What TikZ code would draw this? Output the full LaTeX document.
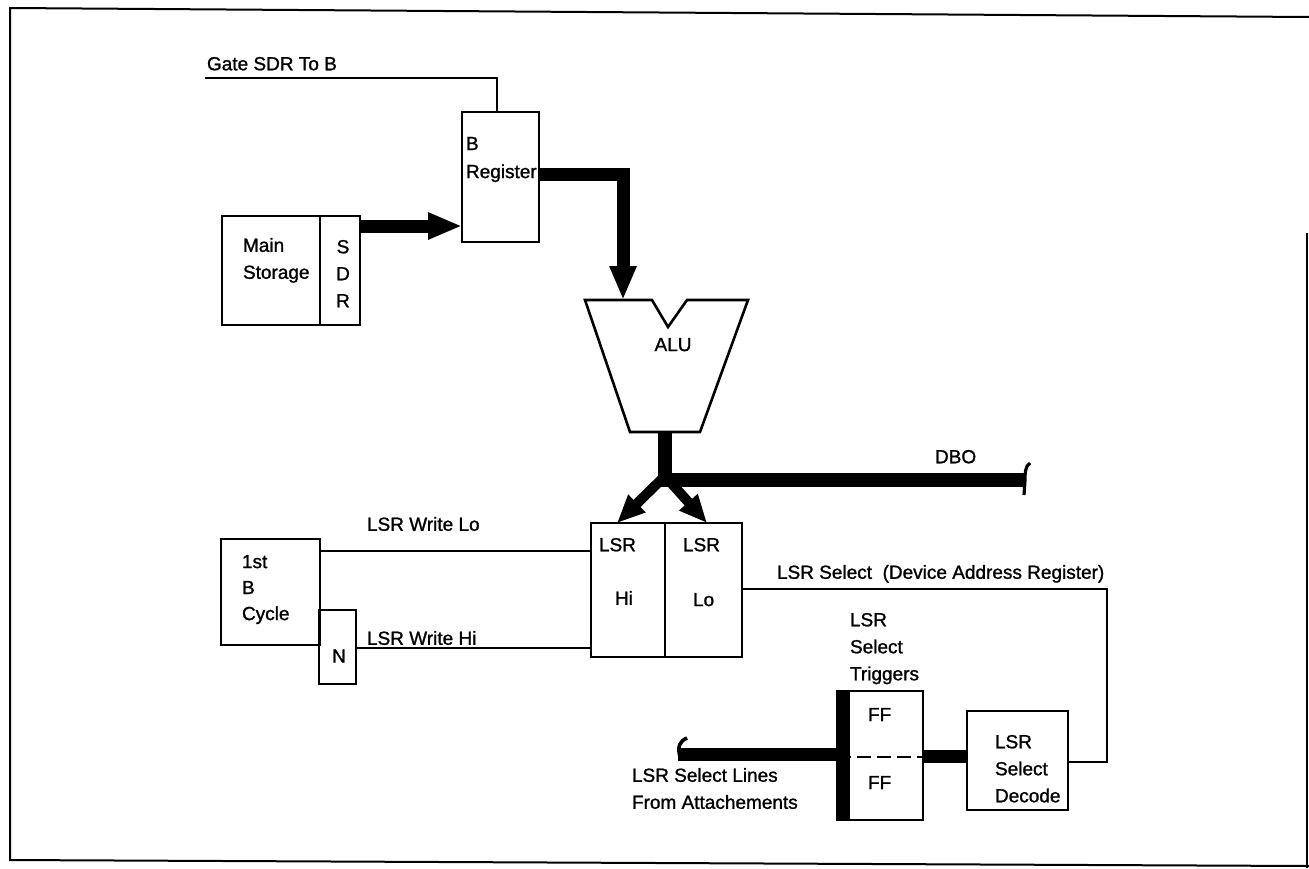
\documentclass[tikz,border=0pt]{standalone}
\usepackage{fontspec}
\setmainfont{Liberation Sans}[BoldFont={Liberation Sans},BoldFeatures={FakeBold=1.2}]
\usetikzlibrary{arrows.meta,fit}
\begin{document}
\begin{tikzpicture}[x=0.5pt,y=-0.5pt,
  wire/.style={line width=1.1pt},
  box/.style={draw,line width=1.3pt,inner sep=0pt,outer sep=0pt},
  lbl/.style={inner sep=0pt,outer sep=0pt,anchor=north west,align=left,font=\fontsize{9.5}{13.5}\selectfont\bfseries},
  bus/.style={line width=6.5pt},
  bigtip/.style={-{Triangle[length=17pt,width=12.5pt]}},
  smalltip/.style={-{Triangle[length=14pt,width=11.5pt]}},
]
\useasboundingbox (0,0) rectangle (1309,868);
% frame
\draw[line width=1pt] (1309,17) -- (10,8) -- (10,860) -- (1309,866);
\draw[line width=1pt] (1307,233) -- (1307,868);

% boxes
\node[box,fit={(462,112)(539,242)}] (breg) {};
\node[box,fit={(222,216)(320,325)}] (ms) {};
\node[box,fit={(320,216)(360,325)}] (sdr) {};
\node[box,fit={(221,539)(320,645)}] (cyc) {};
\node[box,fit={(319,610)(356,684)}] (nbox) {};
\node[box,fit={(591,523)(665,657)}] (hi) {};
\node[box,fit={(665,523)(742,657)}] (lo) {};
\node[box,fit={(837,691)(923,820)}] (ff) {};
\node[box,fit={(967,711)(1068,810)}] (dec) {};

% ALU
\draw[line width=1.3pt,line join=miter] (585,300) -- (652,300) -- (668,327) -- (687,300) -- (748,300) -- (700,432) -- (630,432) -- cycle;
\coordinate (alutop) at (623,300);
\coordinate (alubot) at (665,432);
\node[lbl,anchor=north] (alut) at (673,338) {ALU};

% FF details
\draw[line width=6.5pt] ([xshift=3.25pt]ff.north west) -- ([xshift=3.25pt]ff.south west);
\coordinate (ffd) at (880,757);
\draw[line width=1.1pt,dash pattern=on 7pt off 3pt] (ff.west |- ffd) -- (ff.east |- ffd);

% coordinates for connectors
\coordinate (gs) at (205,78);
\coordinate (gb) at (497,112);
\coordinate (sd) at (400,226);
\coordinate (bo) at (539,174);
\coordinate (jb) at (665,476);
\coordinate (dboend) at (1025,480);
\coordinate (hitip) at (617,523);
\coordinate (lotip) at (707,523);
\coordinate (wl) at (450,551);
\coordinate (wh) at (450,648);
\coordinate (c1) at (1107,589);
\coordinate (c2) at (1107,762);
\coordinate (bb) at (945,756);
\coordinate (sl) at (678,754);

% connectors
\draw[wire] (gs) -| (gb);
\draw[bus,bigtip] (sdr.east |- sd) -- (breg.west |- sd);
\draw[bus,bigtip,line join=miter] (bo) -| (alutop);
\draw[line width=7pt,line join=miter] (alubot) |- (dboend);
\draw[line width=1.6pt] (1030,463) .. controls (1025,466) and (1025,474) .. (1025,480) -- (1024,495);
\draw[line width=5pt,smalltip] (jb) -- (hitip);
\draw[line width=5pt,smalltip] (jb) -- (lotip);
\draw[wire] (cyc.east |- wl) -- (hi.west |- wl);
\draw[wire] (nbox.east |- wh) -- (hi.west |- wh);
\draw[wire] (lo.east |- c1) -- (c1) -- (c2) -- (dec.east |- c2);
\draw[bus] (dec.west |- bb) -- (ff.east |- bb);
\draw[bus] (sl) -- (ff.west |- sl);
\draw[line width=1.8pt] (680,757) .. controls (677,746) and (680,741) .. (687,738);

% labels
\node[lbl] (gate) at (207,57) {Gate SDR To B};
\node[lbl,font=\fontsize{9.5}{14}\selectfont\bfseries] (bregt) at (466,137) {B\\Register};
\node[lbl] (mst) at (243,238) {Main\\Storage};
\node[lbl,anchor=north,align=center] (sdrt) at (343,240) {S\\D\\R};
\node[lbl,font=\fontsize{9.5}{13}\selectfont\bfseries] (cyct) at (242,555) {1st\\B\\Cycle};
\node[lbl,anchor=center] (nt) at (339,656) {N};
\node[lbl] (wlo) at (367,517) {LSR Write Lo};
\node[lbl] (whi) at (367,631) {LSR Write Hi};
\node[lbl] (hit) at (599,538) {LSR};
\node[lbl] (hit2) at (615,591) {Hi};
\node[lbl] (lot) at (683,538) {LSR};
\node[lbl] (lot2) at (693,593) {Lo};
\node[lbl] (selt) at (777,565) {LSR Select\ \ (Device Address Register)};
\node[lbl] (dbo) at (935,450) {DBO};
\node[lbl] (trg) at (850,613) {LSR\\Select\\Triggers};
\node[lbl] (ff1) at (868,708) {FF};
\node[lbl] (ff2) at (868,776) {FF};
\node[lbl] (decl) at (995,735) {LSR\\Select\\Decode};
\node[lbl] (slines) at (632,768) {LSR Select Lines\\From Attachements};
\end{tikzpicture}
\end{document}
